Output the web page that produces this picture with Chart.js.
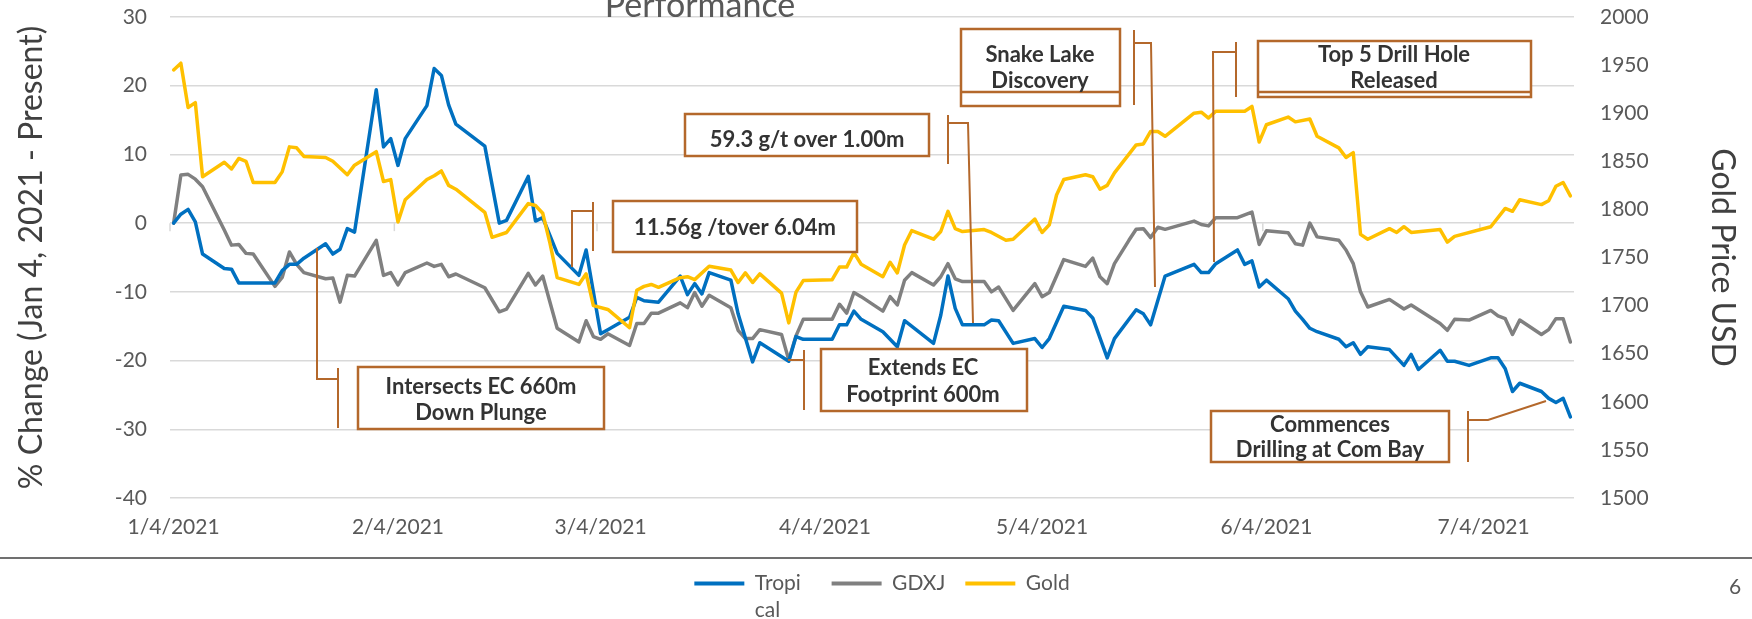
<!DOCTYPE html>
<html>
<head>
<meta charset="utf-8">
<title>Performance</title>
<script src="https://cdn.jsdelivr.net/npm/chart.js@4.4.1/dist/chart.umd.min.js"></script>
<style>
    html, body { margin: 0; padding: 0; background: #ffffff; }
    #wrap { width: 1752px; height: 619px; }
</style>
</head>
<body>
<div id="wrap"><canvas id="perfChart" width="1752" height="619"></canvas></div>
<script>
// days are counted from 4 Jan 2021
const startDate = Date.UTC(2021, 0, 4);
const tickDays = [0, 31, 59, 90, 120, 151, 181];
const pctTicks = [-40, -30, -20, -10, 0, 10, 20, 30];
const goldTicks = [1500, 1550, 1600, 1650, 1700, 1750, 1800, 1850, 1900, 1950, 2000];

const tropicalDays = [0, 1, 2, 3, 4, 7, 8, 9, 14, 15, 16, 17, 18, 21, 22, 23, 24, 25, 28, 29,
    30, 31, 32, 35, 36, 37, 38, 39, 43, 45, 46, 49, 50, 51, 53, 56, 57, 59, 60, 63,
    64, 65, 67, 70, 71, 72, 73, 74, 77, 78, 80, 81, 85, 86, 87, 91, 92, 93, 94, 95,
    98, 100, 101, 105, 106, 107, 108, 109, 112, 113, 114, 116, 119, 120, 121, 123, 126, 127, 129, 130,
    133, 134, 135, 137, 141, 142, 143, 144, 147, 148, 149, 150, 151, 154, 155, 156, 157, 158, 161, 162,
    163, 164, 165, 168, 170, 171, 172, 175, 176, 177, 179, 182, 183, 184, 185, 186, 189, 190, 191, 192, 193];
const tropicalPct = [0.0, 1.3, 2.0, 0.2, -4.5, -6.6, -6.7, -8.7, -8.7, -6.9, -6.0, -6.0, -5.1, -3.0, -4.5, -3.8, -0.8, -1.3, 19.4, 11.1,
    12.3, 8.4, 12.3, 17.1, 22.5, 21.5, 17.2, 14.4, 11.2, 0.0, 0.4, 6.8, 0.3, 0.8, -4.4, -7.6, -3.9, -16.1, -15.5, -13.7,
    -10.8, -11.3, -11.5, -7.7, -10.4, -8.8, -10.3, -7.2, -8.3, -13.2, -20.2, -17.4, -20.1, -16.5, -16.9, -16.9, -14.8, -14.8, -12.8, -14.0,
    -15.8, -18.0, -14.2, -17.5, -13.4, -7.7, -12.4, -14.8, -14.8, -14.1, -14.2, -17.5, -16.8, -18.1, -16.8, -12.1, -12.7, -13.8, -19.6, -16.8,
    -12.6, -13.2, -14.8, -7.7, -6.0, -7.2, -7.2, -5.9, -3.9, -6.0, -5.5, -9.3, -8.3, -11.0, -12.8, -14.0, -15.3, -15.8, -16.9, -18.0,
    -17.4, -19.1, -18.0, -18.4, -20.7, -19.1, -21.3, -18.5, -20.1, -20.1, -20.7, -19.6, -19.6, -21.2, -24.5, -23.3, -24.5, -25.5, -26.1, -25.5, -28.2];

const gdxjDays = [0, 1, 2, 3, 4, 7, 8, 9, 10, 11, 14, 15, 16, 17, 18, 21, 22, 23, 24, 25,
    28, 29, 30, 31, 32, 35, 36, 37, 38, 39, 43, 45, 46, 49, 50, 51, 53, 56, 57, 58,
    59, 60, 63, 64, 65, 66, 67, 70, 71, 72, 73, 74, 77, 78, 79, 80, 81, 84, 85, 86,
    87, 91, 92, 93, 94, 95, 98, 99, 100, 101, 102, 105, 106, 107, 108, 109, 112, 113, 114, 116,
    119, 120, 121, 123, 126, 127, 128, 129, 130, 132, 133, 134, 135, 136, 137, 141, 142, 143, 144, 147,
    148, 149, 150, 151, 154, 155, 156, 157, 158, 161, 162, 163, 164, 165, 168, 170, 171, 175, 176, 177,
    179, 182, 183, 184, 185, 186, 189, 190, 191, 192, 193];
const gdxjPct = [0.0, 7.0, 7.1, 6.4, 5.3, -1.0, -3.2, -3.1, -4.4, -4.5, -9.2, -7.9, -4.2, -6.0, -7.2, -8.1, -8.0, -11.5, -7.6, -7.7,
    -2.5, -7.6, -7.2, -9.0, -7.2, -5.8, -6.3, -6.0, -7.8, -7.4, -9.4, -12.9, -12.5, -7.3, -9.0, -7.7, -15.3, -17.3, -14.2, -16.5,
    -16.9, -16.1, -17.8, -14.6, -14.6, -13.1, -13.1, -11.6, -12.3, -10.1, -12.1, -10.5, -12.3, -15.6, -16.8, -16.8, -15.5, -16.2, -19.9, -16.4,
    -14.0, -14.0, -11.8, -13.1, -10.1, -10.7, -12.8, -10.7, -11.9, -8.3, -7.2, -9.0, -7.8, -5.9, -8.1, -8.5, -8.5, -10.0, -9.3, -12.7,
    -8.8, -10.7, -10.1, -5.3, -6.3, -5.1, -7.8, -8.8, -5.9, -2.5, -0.9, -0.8, -2.1, -0.6, -0.9, 0.3, -0.2, -0.4, 0.8, 0.8,
    1.2, 1.6, -3.1, -1.1, -1.4, -3.0, -3.2, 0.0, -2.0, -2.5, -3.9, -5.9, -10.0, -12.2, -11.1, -12.5, -11.9, -14.6, -15.6, -14.0,
    -14.1, -12.7, -13.5, -13.9, -16.2, -14.1, -16.2, -15.5, -13.9, -13.9, -17.3];

const goldDays = [0, 1, 2, 3, 4, 7, 8, 9, 10, 11, 14, 15, 16, 17, 18, 21, 22, 24, 25, 28,
    29, 30, 31, 32, 35, 36, 37, 38, 39, 43, 44, 46, 49, 50, 51, 52, 53, 56, 57, 58,
    60, 63, 64, 65, 66, 67, 70, 71, 72, 74, 77, 78, 79, 80, 81, 84, 85, 86, 87, 91,
    92, 93, 94, 95, 98, 99, 100, 101, 102, 105, 106, 107, 108, 109, 112, 113, 115, 116, 119, 120,
    121, 122, 123, 126, 127, 128, 129, 130, 133, 134, 135, 136, 137, 141, 142, 143, 144, 148, 149, 150,
    151, 154, 155, 157, 158, 161, 162, 163, 164, 165, 168, 169, 170, 171, 175, 176, 177, 182, 184, 185,
    186, 189, 190, 191, 192, 193];
const goldUsd = [1945, 1952, 1906, 1911, 1834, 1849, 1842, 1853, 1850, 1828, 1828, 1839, 1865, 1864, 1855, 1854, 1850, 1836, 1846, 1860,
    1829, 1831, 1787, 1810, 1831, 1835, 1840, 1825, 1821, 1797, 1771, 1776, 1806, 1804, 1796, 1765, 1729, 1722, 1733, 1700,
    1696, 1677, 1716, 1720, 1722, 1719, 1729, 1730, 1727, 1741, 1737, 1724, 1734, 1724, 1733, 1713, 1682, 1714, 1726, 1727,
    1740, 1740, 1755, 1743, 1730, 1745, 1734, 1763, 1778, 1769, 1777, 1798, 1780, 1777, 1779, 1776, 1768, 1769, 1790, 1776,
    1784, 1815, 1831, 1836, 1834, 1821, 1825, 1838, 1867, 1868, 1881, 1881, 1876, 1900, 1901, 1895, 1902, 1902, 1907, 1870,
    1888, 1896, 1891, 1894, 1876, 1864, 1854, 1859, 1774, 1769, 1780, 1776, 1782, 1776, 1779, 1766, 1772, 1782, 1801, 1798,
    1810, 1805, 1809, 1824, 1828, 1814];

// legend text that Excel wrapped onto a second line
const legendWrap = { Tropical: ['Tropi', 'cal'] };

// call-out shapes placed on the slide (pixels): box, accent bar, leader path
const noteColor = '#B4682B';
const notes = [
    { lines: ['Intersects EC 660m', 'Down Plunge'], box: [358, 367, 604, 429], cx: 481, ty: [387, 413],
      bar: [338, 368, 428], path: [[338, 379], [317, 379], [317, 248]] },
    { lines: ['11.56g /tover 6.04m'], box: [613, 201, 857, 252], cx: 735, ty: [228],
      bar: [593, 202, 251], path: [[593, 211], [572, 211], [572, 267]] },
    { lines: ['59.3 g/t over 1.00m'], box: [685, 114, 929, 156], cx: 807, ty: [140],
      bar: [948, 115, 164], path: [[948, 123], [968, 123], [973, 323]] },
    { lines: ['Snake Lake', 'Discovery'], box: [961, 29, 1120, 106], inner: 92, cx: 1040, ty: [55, 81],
      bar: [1134, 30, 105], path: [[1134, 43], [1151, 43], [1155, 287]] },
    { lines: ['Extends EC', 'Footprint 600m'], box: [821, 349, 1027, 411], cx: 923, ty: [368, 395],
      bar: [804, 350, 410], path: [[804, 360], [788, 360]] },
    { lines: ['Top 5 Drill Hole', 'Released'], box: [1258, 41, 1531, 97], inner: 92, cx: 1394, ty: [55, 81],
      bar: [1236, 42, 97], path: [[1236, 52], [1213, 52], [1214, 262]] },
    { lines: ['Commences', 'Drilling at Com Bay'], box: [1211, 411, 1449, 462], cx: 1330, ty: [425, 450],
      bar: [1468, 411, 462], path: [[1468, 420], [1488, 420], [1546, 401]] }
];

const textGray = '#595959';
const font = 'Lato';

function fmtDate(day) {
    const d = new Date(startDate + day * 86400000);
    return (d.getUTCMonth() + 1) + '/' + d.getUTCDate() + '/' + d.getUTCFullYear();
}

function toPoints(days, values) {
    return days.map((d, i) => ({ x: d, y: values[i] }));
}

// keep the vertical axes from adding label padding above the plot
function fixAxis(width) {
    return s => {
        s.width = width;
        s.paddingTop = 0;
        s.paddingBottom = 0;
    };
}

function drawNote(ctx, n) {
    ctx.save();
    ctx.strokeStyle = noteColor;
    ctx.lineWidth = 2;
    ctx.beginPath();
    n.path.forEach(([x, y], i) => (i ? ctx.lineTo(x, y) : ctx.moveTo(x, y)));
    ctx.stroke();
    ctx.beginPath();
    ctx.moveTo(n.bar[0], n.bar[1]);
    ctx.lineTo(n.bar[0], n.bar[2]);
    ctx.stroke();

    const [x1, y1, x2, y2] = n.box;
    ctx.fillStyle = '#ffffff';
    ctx.fillRect(x1, y1, x2 - x1, y2 - y1);
    ctx.lineWidth = 2.5;
    ctx.strokeRect(x1, y1, x2 - x1, y2 - y1);
    if (n.inner) {
        ctx.beginPath();
        ctx.moveTo(x1, n.inner);
        ctx.lineTo(x2, n.inner);
        ctx.stroke();
    }
    ctx.fillStyle = '#333333';
    ctx.font = 'bold 22px ' + font;
    ctx.textAlign = 'center';
    ctx.textBaseline = 'middle';
    n.lines.forEach((t, i) => ctx.fillText(t, n.cx, n.ty[i]));
    ctx.restore();
}

const slideOverlay = {
    id: 'slideOverlay',
    beforeDatasetsDraw(chart) {
        // small tick marks on the zero line at each month label
        const { ctx, scales } = chart;
        const y0 = scales.y.getPixelForValue(0);
        ctx.save();
        ctx.strokeStyle = '#D9D9D9';
        ctx.lineWidth = 1.5;
        tickDays.forEach(d => {
            const x = scales.x.getPixelForValue(d - 0.5);
            ctx.beginPath();
            ctx.moveTo(x, y0);
            ctx.lineTo(x, y0 + 8);
            ctx.stroke();
        });
        ctx.restore();
    },
    afterDraw(chart) {
        const ctx = chart.ctx;
        ctx.save();
        // title, partly above the slide area
        ctx.fillStyle = textGray;
        ctx.font = '34px ' + font;
        ctx.textAlign = 'center';
        ctx.textBaseline = 'alphabetic';
        ctx.fillText('Performance', 700, 17);

        // footer rule and page number
        ctx.strokeStyle = '#404040';
        ctx.lineWidth = 1.5;
        ctx.beginPath();
        ctx.moveTo(0, 558);
        ctx.lineTo(1752, 558);
        ctx.stroke();
        ctx.font = '21px ' + font;
        ctx.textBaseline = 'middle';
        ctx.fillText('6', 1735, 587);

        // wrapped part of legend labels
        const lg = chart.legend;
        ctx.textAlign = 'left';
        lg.legendItems.forEach((item, i) => {
            const label = chart.data.datasets[item.datasetIndex].label;
            const extra = (legendWrap[label] || []).slice(1);
            const hb = lg.legendHitBoxes[i];
            extra.forEach((t, k) => {
                ctx.fillText(t, hb.left + 50 + 10.5, hb.top + hb.height / 2 + 27 * (k + 1));
            });
        });
        ctx.restore();

        notes.forEach(n => drawNote(ctx, n));
    }
};

function buildChart() {
    const ctx = document.getElementById('perfChart').getContext('2d');
    new Chart(ctx, {
        type: 'line',
        data: {
            datasets: [{
                label: 'Tropical',
                data: toPoints(tropicalDays, tropicalPct),
                borderColor: '#0070C0',
                backgroundColor: '#0070C0',
                yAxisID: 'y',
                order: 2
            }, {
                label: 'GDXJ',
                data: toPoints(gdxjDays, gdxjPct),
                borderColor: '#808080',
                backgroundColor: '#808080',
                yAxisID: 'y',
                order: 3
            }, {
                label: 'Gold',
                data: toPoints(goldDays, goldUsd),
                borderColor: '#FFC000',
                backgroundColor: '#FFC000',
                yAxisID: 'y1',
                order: 1
            }]
        },
        options: {
            responsive: false,
            animation: false,
            layout: { padding: { top: 17, left: 12, right: 0, bottom: 15 } },
            elements: {
                point: { radius: 0 },
                line: { borderWidth: 3.5, tension: 0, borderJoinStyle: 'round', borderCapStyle: 'round' }
            },
            scales: {
                x: {
                    type: 'linear',
                    min: -0.5,
                    max: 193.5,
                    grid: { display: false, drawTicks: false },
                    border: { display: false },
                    afterBuildTicks: s => { s.ticks = tickDays.map(v => ({ value: v })); },
                    afterFit: s => { s.height = 55; },
                    ticks: {
                        autoSkip: false,
                        maxRotation: 0,
                        padding: 17,
                        color: textGray,
                        font: { family: font, size: 21 },
                        callback: v => fmtDate(v)
                    }
                },
                y: {
                    position: 'left',
                    min: -40,
                    max: 30,
                    afterBuildTicks: s => { s.ticks = pctTicks.map(v => ({ value: v })); },
                    afterFit: fixAxis(158),
                    grid: { color: '#D9D9D9', lineWidth: 1.5, drawTicks: false },
                    border: { display: false },
                    ticks: { padding: 23, color: textGray, font: { family: font, size: 21 }, callback: v => String(v) },
                    title: {
                        display: true,
                        text: '% Change (Jan 4, 2021 - Present)',
                        color: '#404040',
                        font: { family: font, size: 32 },
                        padding: { top: 0, bottom: 0 }
                    }
                },
                y1: {
                    position: 'right',
                    min: 1500,
                    max: 2000,
                    afterBuildTicks: s => { s.ticks = goldTicks.map(v => ({ value: v })); },
                    afterFit: fixAxis(178),
                    grid: { display: false, drawTicks: false },
                    border: { display: false },
                    ticks: { padding: 26, color: textGray, font: { family: font, size: 21 }, callback: v => String(v) },
                    title: {
                        display: true,
                        text: 'Gold Price USD',
                        color: '#404040',
                        font: { family: font, size: 32 },
                        padding: { top: 10, bottom: 0 }
                    }
                }
            },
            plugins: {
                legend: {
                    position: 'bottom',
                    labels: {
                        boxWidth: 50,
                        boxHeight: 4,
                        padding: 20,
                        color: textGray,
                        font: { family: font, size: 21 },
                        sort: (a, b) => a.datasetIndex - b.datasetIndex,
                        // a wrapped label still takes a little more room, as in Excel
                        generateLabels: chart => Chart.defaults.plugins.legend.labels.generateLabels(chart)
                            .map(item => Object.assign(item, {
                                text: legendWrap[item.text] ? legendWrap[item.text][0] + '  ' : item.text,
                                lineWidth: 0
                            }))
                    }
                },
                tooltip: { enabled: false }
            }
        },
        plugins: [slideOverlay]
    });
}

Promise.all([
    document.fonts.load('21px Lato'),
    document.fonts.load('bold 22px Lato'),
    document.fonts.load('32px Lato')
]).then(buildChart, buildChart);
</script>
</body>
</html>
